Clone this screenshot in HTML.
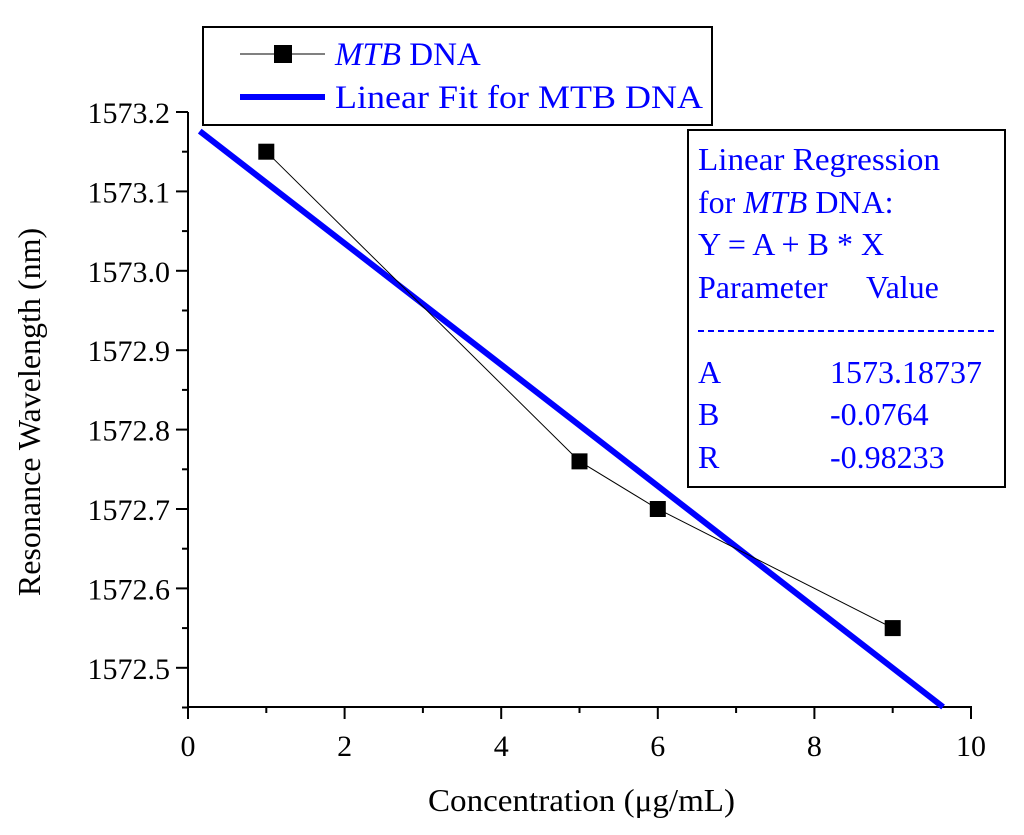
<!DOCTYPE html>
<html><head><meta charset="utf-8"><style>
body{margin:0;background:#fff}
svg{display:block;font-family:"Liberation Serif",serif}
</style></head><body>
<svg id="c" width="1024" height="835">
<g id="axes"></g>
<g id="marks"></g>
<g>
<rect x="203" y="27" width="509" height="98" fill="#fff" stroke="#000" stroke-width="2"/>
<line x1="240" y1="54" x2="325" y2="54" stroke="#000" stroke-width="1"/>
<rect x="274" y="45" width="18" height="18" fill="#000"/>
<text x="335" y="65" font-size="33" fill="#0000ff"><tspan font-style="italic">MTB</tspan> DNA</text>
<line x1="240" y1="97" x2="325" y2="97" stroke="#0000ff" stroke-width="6"/>
<text x="335" y="108" font-size="33" fill="#0000ff" textLength="368" lengthAdjust="spacingAndGlyphs">Linear Fit for MTB DNA</text>
</g>
<g font-size="32" fill="#0000ff">
<rect x="688" y="130" width="317" height="357" fill="#fff" stroke="#000" stroke-width="2"/>
<text x="698" y="170" textLength="242" lengthAdjust="spacingAndGlyphs">Linear Regression</text>
<text x="698" y="213">for <tspan font-style="italic">MTB</tspan> DNA:</text>
<text x="698" y="255">Y = A + B * X</text>
<text x="698" y="298">Parameter</text><text x="866" y="298">Value</text>
<line x1="698" y1="331" x2="997" y2="331" stroke="#0000ff" stroke-width="2" stroke-dasharray="6,4"/>
<text x="698" y="383">A</text><text x="830" y="383">1573.18737</text>
<text x="698" y="425">B</text><text x="830" y="425">-0.0764</text>
<text x="698" y="468">R</text><text x="830" y="468">-0.98233</text>
</g>
<text x="428" y="811" font-size="32" textLength="307" lengthAdjust="spacingAndGlyphs">Concentration (μg/mL)</text>
<text transform="translate(40,412) rotate(-90)" font-size="32" text-anchor="middle">Resonance Wavelength (nm)</text>
</svg>
<script>
const xs=[1,5,6,9];
const ys=[1573.15,1572.76,1572.70,1572.55];
const fitA=1573.18737, fitB=-0.0764;
const xTicks=[0,2,4,6,8,10];
const yTicks=[1572.5,1572.6,1572.7,1572.8,1572.9,1573.0,1573.1,1573.2];
const NS="http://www.w3.org/2000/svg";
const X=v=>188+v*78.3;
const Y=v=>112+(1573.2-v)*794;
function mk(tag,attrs,parent,txt){const e=document.createElementNS(NS,tag);for(const k in attrs)e.setAttribute(k,attrs[k]);if(txt!==undefined)e.textContent=txt;parent.appendChild(e);return e;}
const ax=document.getElementById('axes'),mg=document.getElementById('marks');
let e=mk('line',{x1:188,y1:112,x2:188,y2:707,stroke:'#000','stroke-width':2},ax);


e=mk('line',{x1:187,y1:707,x2:972,y2:707,stroke:'#000','stroke-width':2},ax);


for(let i=0;i<yTicks.length;i++){const v=yTicks[i];
 mk('line',{x1:176,y1:Y(v),x2:188,y2:Y(v),stroke:'#000','stroke-width':2},ax);
 if(i<yTicks.length-1)mk('line',{x1:182,y1:Y(v+0.05),x2:188,y2:Y(v+0.05),stroke:'#000','stroke-width':2},ax);
 e=mk('text',{x:170,y:Y(v)+11,'font-size':30,'text-anchor':'end'},ax,v.toFixed(1));
 
 
}
mk('line',{x1:182,y1:Y(1572.45),x2:188,y2:Y(1572.45),stroke:'#000','stroke-width':2},ax);
for(let i=0;i<xTicks.length;i++){const v=xTicks[i];
 mk('line',{x1:X(v),y1:707,x2:X(v),y2:719,stroke:'#000','stroke-width':2},ax);
 if(i<xTicks.length-1)mk('line',{x1:X(v+1),y1:707,x2:X(v+1),y2:713,stroke:'#000','stroke-width':2},ax);
 e=mk('text',{x:X(v),y:756,'font-size':30,'text-anchor':'middle'},ax,String(v));
 
 
}
const x0=0.15, yb=1573.2-595/794, x1=(fitA-yb)/(-fitB);
e=mk('line',{x1:X(x0),y1:Y(fitA+fitB*x0),x2:X(x1),y2:Y(fitA+fitB*x1),stroke:'#0000ff','stroke-width':6},mg);


e=mk('polyline',{points:xs.map((x,i)=>X(x)+','+Y(ys[i])).join(' '),fill:'none',stroke:'#000','stroke-width':1},mg);


xs.forEach((x,i)=>{e=mk('rect',{x:X(x)-8,y:Y(ys[i])-8,width:16,height:16,fill:'#000'},mg);
 
 });
</script>
</body></html>
